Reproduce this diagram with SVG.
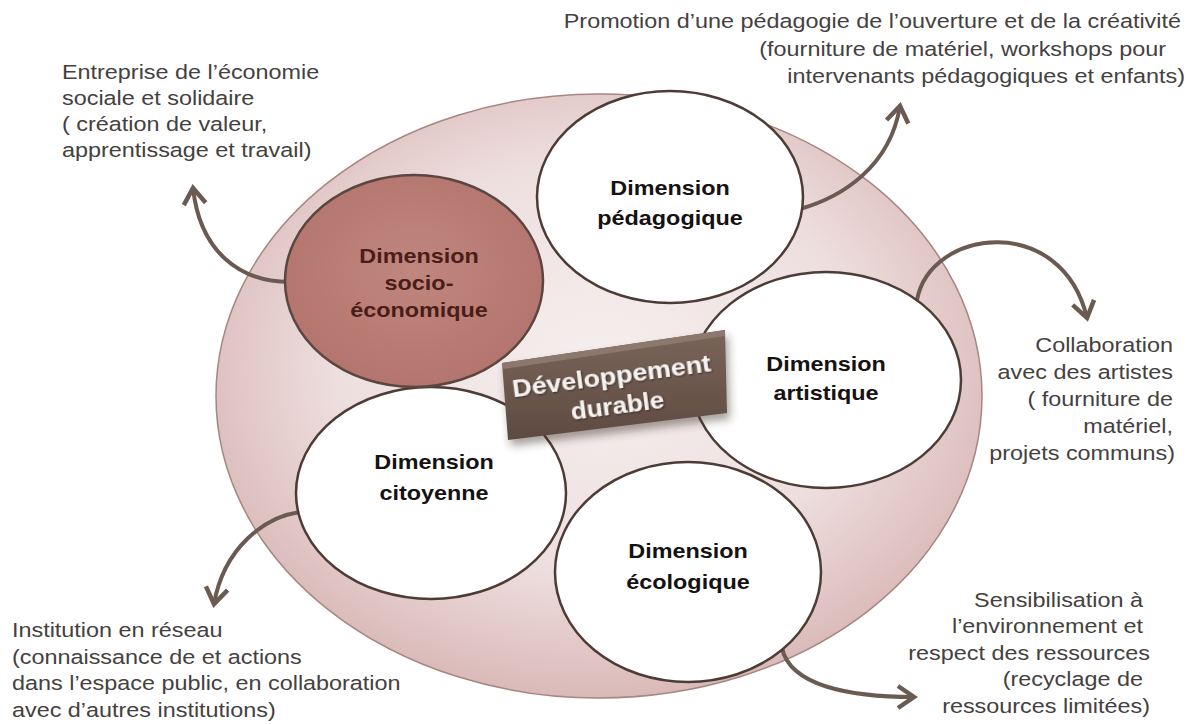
<svg xmlns="http://www.w3.org/2000/svg" width="1189" height="724" viewBox="0 0 1189 724">
<style>
.lbl{font-family:"Liberation Sans",Arial,sans-serif;font-size:19.5px;fill:#454141}
.nt{font-family:"Liberation Sans",Arial,sans-serif;font-size:19.5px;font-weight:bold;fill:#161212;text-anchor:middle}
.st{fill:#4a1d19}
.wn{fill:#ffffff;stroke:#4d3b36;stroke-width:2.5}
.sn{fill:url(#socioG);stroke:#5b4640;stroke-width:2.5}
.conn{fill:none;stroke:#6b5a52;stroke-width:4;marker-end:url(#chev)}
.ct{font-family:"Liberation Sans",Arial,sans-serif;font-size:24px;font-weight:bold;fill:#f6f2ef;text-anchor:middle}
</style>
<defs>
<radialGradient id="outerG" cx="50%" cy="45%" r="56%">
<stop offset="0" stop-color="#f6efef"/>
<stop offset="0.6" stop-color="#eedfdf"/>
<stop offset="1" stop-color="#d9b8b6"/>
</radialGradient>
<radialGradient id="socioG" cx="50%" cy="45%" r="60%">
<stop offset="0" stop-color="#c0877e"/>
<stop offset="1" stop-color="#b2736b"/>
</radialGradient>
<linearGradient id="boxG" x1="0" y1="0" x2="0" y2="1">
<stop offset="0" stop-color="#7a655a"/>
<stop offset="1" stop-color="#5e4a41"/>
</linearGradient>
<filter id="sh" x="-20%" y="-30%" width="140%" height="170%">
<feDropShadow dx="3" dy="6" stdDeviation="4" flood-color="#3a2a25" flood-opacity="0.45"/>
</filter>
<filter id="tsh" x="-10%" y="-30%" width="120%" height="160%">
<feDropShadow dx="1" dy="1" stdDeviation="0.8" flood-color="#000" flood-opacity="0.5"/>
</filter>
<marker id="chev" markerUnits="userSpaceOnUse" viewBox="-20 -14 24 28" markerWidth="24" markerHeight="28" refX="0" refY="0" orient="auto">
<path d="M-16,-11 L0,0 L-16,11" fill="none" stroke="#6b5a52" stroke-width="4.5"/>
</marker>
</defs>

<rect width="1189" height="724" fill="#ffffff"/>

<g id="background">
<ellipse cx="599" cy="396" rx="383" ry="302" fill="url(#outerG)" stroke="#a58683" stroke-width="1.5"/>
</g>

<g id="connectors">
<path class="conn" d="M290,282 C240,282 200,252 193,188"/>
<path class="conn" d="M800,209 C842,197 890,167 900,106"/>
<path class="conn" d="M917,300 C930,228 1062,212 1087,318"/>
<path class="conn" d="M300,512 C265,517 224,547 214,604"/>
<path class="conn" d="M782,648 C790,686 850,697 914,697"/>
</g>

<g id="node-pedagogique">
<ellipse class="wn" cx="670" cy="197" rx="133" ry="106"/>
<text class="nt" transform="translate(670,195) scale(1.2,1)">Dimension</text>
<text class="nt" transform="translate(670,225) scale(1.2,1)">pédagogique</text>
</g>

<g id="node-artistique">
<ellipse class="wn" cx="826" cy="380" rx="135" ry="108"/>
<text class="nt" transform="translate(826,371) scale(1.2,1)">Dimension</text>
<text class="nt" transform="translate(826,400) scale(1.2,1)">artistique</text>
</g>

<g id="node-ecologique">
<ellipse class="wn" cx="688" cy="572" rx="133" ry="110"/>
<text class="nt" transform="translate(688,558) scale(1.2,1)">Dimension</text>
<text class="nt" transform="translate(688,589) scale(1.2,1)">écologique</text>
</g>

<g id="node-citoyenne">
<ellipse class="wn" cx="431" cy="493" rx="135" ry="106"/>
<text class="nt" transform="translate(434,469) scale(1.2,1)">Dimension</text>
<text class="nt" transform="translate(434,500) scale(1.2,1)">citoyenne</text>
</g>

<g id="node-socio">
<ellipse class="sn" cx="414" cy="281" rx="129" ry="106"/>
<text class="nt st" transform="translate(419,263) scale(1.2,1)">Dimension</text>
<text class="nt st" transform="translate(419,290) scale(1.2,1)">socio-</text>
<text class="nt st" transform="translate(419,317) scale(1.2,1)">économique</text>
</g>

<g id="node-developpement" filter="url(#sh)">
<polygon points="502,363 725,330 727,413 508,440" fill="url(#boxG)"/>
<polygon points="502,363 725,330 725,336 503,369" fill="#8c786d"/>
<g transform="rotate(-7.5 615 395)" filter="url(#tsh)">
<text class="ct" x="614" y="384" textLength="200" lengthAdjust="spacingAndGlyphs">Développement</text>
<text class="ct" x="616" y="414" textLength="94" lengthAdjust="spacingAndGlyphs">durable</text>
</g>
</g>

<g id="label-top" style="text-anchor:end">
<text class="lbl" transform="translate(1181,28) scale(1.2,1)">Promotion d’une pédagogie de l’ouverture et de la créativité</text>
<text class="lbl" transform="translate(1166,56) scale(1.2,1)">(fourniture de matériel, workshops pour</text>
<text class="lbl" transform="translate(1185,83) scale(1.2,1)">intervenants pédagogiques et enfants)</text>
</g>

<g id="label-left">
<text class="lbl" transform="translate(62,79) scale(1.2,1)">Entreprise de l’économie</text>
<text class="lbl" transform="translate(62,105) scale(1.2,1)">sociale et solidaire</text>
<text class="lbl" transform="translate(62,131) scale(1.2,1)">( création de valeur,</text>
<text class="lbl" transform="translate(62,157) scale(1.2,1)">apprentissage et travail)</text>
</g>

<g id="label-right" style="text-anchor:end">
<text class="lbl" transform="translate(1173,352) scale(1.2,1)">Collaboration</text>
<text class="lbl" transform="translate(1173,379) scale(1.2,1)">avec des artistes</text>
<text class="lbl" transform="translate(1173,406) scale(1.2,1)">( fourniture de</text>
<text class="lbl" transform="translate(1173,433) scale(1.2,1)">matériel,</text>
<text class="lbl" transform="translate(1175,460) scale(1.2,1)">projets communs)</text>
</g>

<g id="label-bottom-left">
<text class="lbl" transform="translate(12,637) scale(1.2,1)">Institution en réseau</text>
<text class="lbl" transform="translate(12,664) scale(1.2,1)">(connaissance de et actions</text>
<text class="lbl" transform="translate(12,690) scale(1.2,1)">dans l’espace public, en collaboration</text>
<text class="lbl" transform="translate(12,717) scale(1.2,1)">avec d’autres institutions)</text>
</g>

<g id="label-bottom-right" style="text-anchor:end">
<text class="lbl" transform="translate(1143,607) scale(1.2,1)">Sensibilisation à</text>
<text class="lbl" transform="translate(1143,633) scale(1.2,1)">l’environnement et</text>
<text class="lbl" transform="translate(1150,660) scale(1.2,1)">respect des ressources</text>
<text class="lbl" transform="translate(1143,686) scale(1.2,1)">(recyclage de</text>
<text class="lbl" transform="translate(1150,713) scale(1.2,1)">ressources limitées)</text>
</g>
</svg>
